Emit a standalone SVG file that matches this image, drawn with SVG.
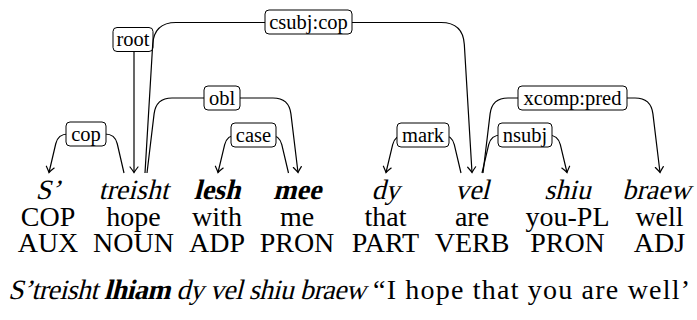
<svg xmlns="http://www.w3.org/2000/svg" width="697" height="320" viewBox="0 0 697 320">
<defs>
<marker id="arr" markerWidth="12" markerHeight="12" refX="0" refY="0" viewBox="-7 -6 8 12" orient="auto" markerUnits="userSpaceOnUse">
<path d="M-5.5,-4 Q-2,-1.2 0,0 Q-2,1.2 -5.5,4" fill="none" stroke="#000" stroke-width="1.2" stroke-linecap="round"/>
</marker>
</defs>
<style>
.w{font-family:"Liberation Serif","Times New Roman",serif;font-size:28px;fill:#000;text-anchor:middle}
.b{font-weight:bold}
.lb{font-family:"Liberation Serif","Times New Roman",serif;font-size:20.5px;fill:#000;text-anchor:middle}
.box{fill:#fff;stroke:#000;stroke-width:1}
.e{fill:none;stroke:#000;stroke-width:1.2;marker-end:url(#arr)}
.s{font-family:"Liberation Serif","Times New Roman",serif;font-size:28px;fill:#000}
</style>
<rect width="697" height="320" fill="#fff"/>
<g id="label-root"><rect class="box" x="113" y="27.5" width="40" height="24" rx="4"/><text class="lb" x="133" y="46">root</text></g>
<g id="connectors">
<path class="e" d="M124,173 L117.25,143.75 Q115,134 105,134 L68,134 Q58,134 55.75,143.75 L49,172.5"/>
<path class="e" d="M134,52 L134,172.5"/>
<path class="e" d="M145,173 L152.69,44.46 Q154,22.5 176,22.5 L441,22.5 Q463,22.5 464.32,44.46 L472,172.5"/>
<path class="e" d="M147,173 L154.09,113.89 Q156,98 172,98 L273,98 Q289,98 290.92,113.89 L298,172.5"/>
<path class="e" d="M288.5,173 L281.8,144.73 Q279.5,135 269.5,135 L237,135 Q227,135 224.67,144.72 L218,172.5"/>
<path class="e" d="M461,173 L454.3,144.73 Q452,135 442,135 L405,135 Q395,135 392.67,144.72 L386,172.5"/>
<path class="e" d="M482,173 L488.7,144.73 Q491,135 501,135 L548,135 Q558,135 560.33,144.72 L567,172.5"/>
<path class="e" d="M483,173 L490.09,113.89 Q492,98 508,98 L635,98 Q651,98 652.92,113.89 L660,172.5"/>
</g>
<g id="label-cop"><rect class="box" x="66" y="122" width="40" height="24" rx="4"/><text class="lb" x="86" y="140.5">cop</text></g>
<g id="label-csubj"><rect class="box" x="265" y="10" width="87" height="24" rx="4"/><text class="lb" x="308.5" y="28.5">csubj:cop</text></g>
<g id="label-obl"><rect class="box" x="204" y="86" width="36" height="24" rx="4"/><text class="lb" x="222" y="104.5">obl</text></g>
<g id="label-case"><rect class="box" x="231" y="123" width="45" height="24" rx="4"/><text class="lb" x="253.5" y="141.5">case</text></g>
<g id="label-mark"><rect class="box" x="397" y="123" width="52" height="24" rx="4"/><text class="lb" x="423" y="141.5">mark</text></g>
<g id="label-nsubj"><rect class="box" x="498" y="123" width="54" height="24" rx="4"/><text class="lb" x="525" y="141.5">nsubj</text></g>
<g id="label-xcomp"><rect class="box" x="518" y="86" width="109" height="24" rx="4"/><text class="lb" x="572.5" y="104.5">xcomp:pred</text></g>
<g id="w1"><text class="w" transform="translate(48,199) skewX(-14)">S’</text><text class="w" x="48" y="226">COP</text><text class="w" x="48" y="252">AUX</text></g>
<g id="w2"><text class="w" transform="translate(133.5,199) skewX(-14)">treisht</text><text class="w" x="133.5" y="226">hope</text><text class="w" x="133.5" y="252">NOUN</text></g>
<g id="w3"><text class="w b" transform="translate(217,199) skewX(-14)">lesh</text><text class="w" x="217" y="226">with</text><text class="w" x="217" y="252">ADP</text></g>
<g id="w4"><text class="w b" transform="translate(297,199) skewX(-14)">mee</text><text class="w" x="297" y="226">me</text><text class="w" x="297" y="252">PRON</text></g>
<g id="w5"><text class="w" transform="translate(385.5,199) skewX(-14)">dy</text><text class="w" x="385.5" y="226">that</text><text class="w" x="385.5" y="252">PART</text></g>
<g id="w6"><text class="w" transform="translate(472,199) skewX(-14)">vel</text><text class="w" x="472" y="226">are</text><text class="w" x="472" y="252">VERB</text></g>
<g id="w7"><text class="w" transform="translate(567.5,199) skewX(-14)">shiu</text><text class="w" x="567.5" y="226">you-PL</text><text class="w" x="567.5" y="252">PRON</text></g>
<g id="w8"><text class="w" transform="translate(656.5,199) skewX(-14)">braew</text><text class="w" x="659.5" y="226">well</text><text class="w" x="659.5" y="252">ADJ</text></g>
<g id="sentence"><text class="s" transform="translate(8,299) skewX(-14)" textLength="358" lengthAdjust="spacing">S’treisht <tspan class="b">lhiam</tspan> dy vel shiu braew</text><text class="s" x="373" y="299" textLength="317" lengthAdjust="spacing">“I hope that you are well’</text></g>
</svg>
